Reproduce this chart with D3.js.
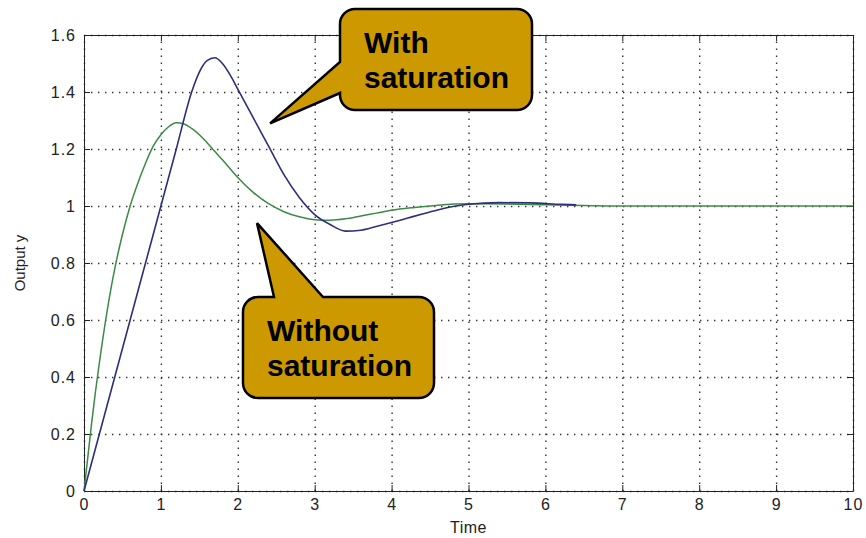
<!DOCTYPE html>
<html>
<head>
<meta charset="utf-8">
<script src="https://cdn.jsdelivr.net/npm/d3@7"></script>
<style>
  body { margin: 0; background: #fff; }
  svg { display: block; }
  .tick text { font-family: "Liberation Sans", Arial, sans-serif; font-size: 16px; fill: #222; letter-spacing: 1px; }
  .axis path, .axis line { stroke: #222; }
  .grid line { stroke: #333; stroke-width: 1.4; stroke-dasharray: 1.4,5.6; }
  .grid path { display: none; }
  .callout text { font-family: "Liberation Sans", Arial, sans-serif; font-weight: bold; font-size: 30px; fill: #000; }
</style>
</head>
<body>
<svg id="chart"></svg>
<script>
// step response data
var timeSat = [0, 0.2, 0.4, 0.6, 0.8, 1.0, 1.2, 1.4, 1.5, 1.6, 1.7, 1.8, 1.9, 2.0, 2.2, 2.4, 2.6, 2.8, 3.0, 3.2, 3.4, 3.6, 3.8, 4.0, 4.2, 4.4, 4.6, 4.8, 5.0, 5.4, 5.8, 6.2, 6.4];
var outSat  = [0, 0.2, 0.4, 0.6, 0.8, 1.0, 1.2, 1.4, 1.47, 1.51, 1.52, 1.5, 1.46, 1.41, 1.31, 1.21, 1.11, 1.03, 0.97, 0.935, 0.912, 0.915, 0.928, 0.942, 0.957, 0.972, 0.986, 0.998, 1.006, 1.012, 1.011, 1.006, 1.004];

var timeLin = [0, 0.05, 0.1, 0.15, 0.2, 0.3, 0.4, 0.5, 0.6, 0.7, 0.8, 0.9, 1.0, 1.1, 1.2, 1.3, 1.4, 1.5, 1.6, 1.7, 1.8, 1.9, 2.0, 2.2, 2.4, 2.6, 2.8, 3.0, 3.2, 3.4, 3.6, 3.8, 4.0, 4.3, 4.6, 5.0, 5.5, 6.0, 6.5, 7, 8, 9, 10];
var outLin  = [0, 0.12, 0.24, 0.35, 0.45, 0.63, 0.78, 0.9, 1.0, 1.08, 1.15, 1.21, 1.25, 1.278, 1.292, 1.288, 1.272, 1.25, 1.222, 1.192, 1.162, 1.131, 1.1, 1.048, 1.008, 0.98, 0.962, 0.952, 0.95, 0.955, 0.965, 0.975, 0.985, 0.995, 1.003, 1.008, 1.007, 1.004, 1.002, 1.0, 1.0, 1.0, 1.0];

var xTicks = [0, 1, 2, 3, 4, 5, 6, 7, 8, 9, 10];
var yTicks = [0, 0.2, 0.4, 0.6, 0.8, 1, 1.2, 1.4, 1.6];

var W = 866, H = 538;
var margin = { top: 35, right: 13, bottom: 47, left: 84 },
    width = W - margin.left - margin.right,
    height = H - margin.top - margin.bottom;

var svg = d3.select('#chart').attr('width', W).attr('height', H);
var g = svg.append('g').attr('transform', 'translate(' + margin.left + ',' + margin.top + ')');

var x = d3.scaleLinear().domain([0, 10]).range([0, width]);
var y = d3.scaleLinear().domain([0, 1.6]).range([height, 0]);

// dotted grid
g.append('g').attr('class', 'grid')
  .attr('transform', 'translate(0,' + height + ')')
  .call(d3.axisBottom(x).tickValues(xTicks).tickSize(-height).tickFormat(''));
g.append('g').attr('class', 'grid')
  .call(d3.axisLeft(y).tickValues(yTicks).tickSize(-width).tickFormat(''));

// box axes with inward ticks
var fmt = d3.format('~g');
g.append('g').attr('class', 'axis')
  .attr('transform', 'translate(0,' + height + ')')
  .call(d3.axisBottom(x).tickValues(xTicks).tickSizeInner(-6).tickSizeOuter(0).tickPadding(8).tickFormat(fmt));
g.append('g').attr('class', 'axis')
  .call(d3.axisLeft(y).tickValues(yTicks).tickSizeInner(-6).tickSizeOuter(0).tickPadding(8).tickFormat(fmt));
g.append('g').attr('class', 'axis')
  .call(d3.axisTop(x).tickValues(xTicks).tickSizeInner(-6).tickSizeOuter(0).tickFormat(''));
g.append('g').attr('class', 'axis')
  .attr('transform', 'translate(' + width + ',0)')
  .call(d3.axisRight(y).tickValues(yTicks).tickSizeInner(-6).tickSizeOuter(0).tickFormat(''));

// curves
var line = d3.line().x(function(d){ return x(d[0]); }).y(function(d){ return y(d[1]); }).curve(d3.curveMonotoneX);
g.append('path').datum(d3.zip(timeLin, outLin))
  .attr('d', line).attr('fill', 'none').attr('stroke', '#3b8a45').attr('stroke-width', 1.5);
g.append('path').datum(d3.zip(timeSat, outSat))
  .attr('d', line).attr('fill', 'none').attr('stroke', '#2e2e7c').attr('stroke-width', 1.6);

// axis titles
svg.append('text').attr('x', margin.left + width / 2).attr('y', 533)
  .attr('text-anchor', 'middle').style('font-family', '"Liberation Sans", Arial, sans-serif')
  .style('font-size', '16px').style('fill', '#222').style('letter-spacing', '0.5px').text('Time');
svg.append('text').attr('transform', 'translate(25,' + (margin.top + height / 2) + ') rotate(-90)')
  .attr('text-anchor', 'middle').style('font-family', '"Liberation Sans", Arial, sans-serif')
  .style('font-size', '15px').style('fill', '#222').text('Output y');

// callout bubbles
function bubbleLeft(bx, by, bw, bh, r, b1, b2, tx, ty) {
  // tail on the left edge, between y=b1 and y=b2
  return 'M' + (bx + r) + ',' + by +
    'H' + (bx + bw - r) + 'A' + r + ',' + r + ' 0 0 1 ' + (bx + bw) + ',' + (by + r) +
    'V' + (by + bh - r) + 'A' + r + ',' + r + ' 0 0 1 ' + (bx + bw - r) + ',' + (by + bh) +
    'H' + (bx + r) + 'A' + r + ',' + r + ' 0 0 1 ' + bx + ',' + (by + bh - r) +
    'L' + bx + ',' + b2 + 'L' + tx + ',' + ty + 'L' + bx + ',' + b1 +
    'V' + (by + r) + 'A' + r + ',' + r + ' 0 0 1 ' + (bx + r) + ',' + by + 'Z';
}
function bubbleTop(bx, by, bw, bh, r, a1, a2, tx, ty) {
  // tail on the top edge, between x=a1 and x=a2
  return 'M' + (bx + r) + ',' + by +
    'H' + a1 + 'L' + tx + ',' + ty + 'L' + a2 + ',' + by +
    'H' + (bx + bw - r) + 'A' + r + ',' + r + ' 0 0 1 ' + (bx + bw) + ',' + (by + r) +
    'V' + (by + bh - r) + 'A' + r + ',' + r + ' 0 0 1 ' + (bx + bw - r) + ',' + (by + bh) +
    'H' + (bx + r) + 'A' + r + ',' + r + ' 0 0 1 ' + bx + ',' + (by + bh - r) +
    'V' + (by + r) + 'A' + r + ',' + r + ' 0 0 1 ' + (bx + r) + ',' + by + 'Z';
}

var c1 = svg.append('g').attr('class', 'callout');
c1.append('path')
  .attr('d', bubbleLeft(340, 9, 192, 101, 15, 62, 93, margin.left + x(2.42), margin.top + y(1.29)))
  .attr('fill', '#cc9900').attr('stroke', '#000').attr('stroke-width', 2.5).attr('stroke-linejoin', 'miter');
c1.append('text').attr('x', 364).attr('y', 53).text('With');
c1.append('text').attr('x', 364).attr('y', 88).text('saturation');

var c2 = svg.append('g').attr('class', 'callout');
c2.append('path')
  .attr('d', bubbleTop(243, 297, 191, 101, 15, 274, 323, margin.left + x(2.25), margin.top + y(0.94)))
  .attr('fill', '#cc9900').attr('stroke', '#000').attr('stroke-width', 2.5).attr('stroke-linejoin', 'miter');
c2.append('text').attr('x', 267).attr('y', 341).text('Without');
c2.append('text').attr('x', 267).attr('y', 376).text('saturation');
</script>
</body>
</html>
